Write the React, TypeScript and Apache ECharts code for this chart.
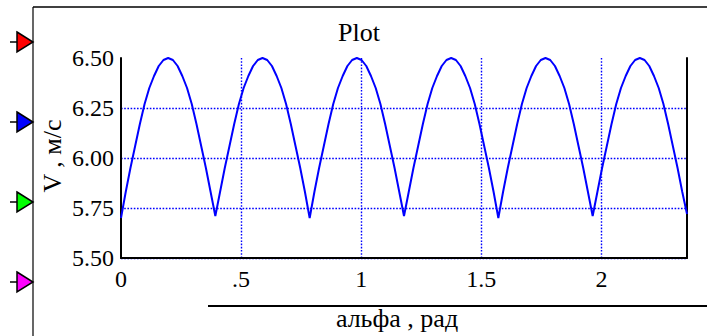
import React, { useEffect, useRef } from "react";
import * as echarts from "echarts";

// Sample spacing along alpha (rad): 20 samples per ripple period (~0.3927 rad)
const SAMPLE_STEP = 0.019635;
const X_MAX = 2.3562;
const X_TICKS = [0, 0.5, 1, 1.5, 2];
const X_TICK_LABELS = ["0", ".5", "1", "1.5", "2"];
const Y_TICKS = [5.5, 5.75, 6.0, 6.25, 6.5];
const Y_TICK_LABELS = ["5.50", "5.75", "6.00", "6.25", "6.50"];

// V values (m/s)
const V_VALUES = [
  5.70, 5.83, 5.95, 6.06, 6.17, 6.27, 6.35, 6.41, 6.46, 6.49, 6.50, 6.49, 6.46, 6.41, 6.35, 6.27, 6.17, 6.06, 5.95, 5.83,
  5.71, 5.83, 5.95, 6.06, 6.17, 6.27, 6.35, 6.41, 6.46, 6.49, 6.50, 6.49, 6.46, 6.41, 6.35, 6.27, 6.17, 6.06, 5.95, 5.83,
  5.70, 5.83, 5.95, 6.06, 6.17, 6.27, 6.35, 6.41, 6.46, 6.49, 6.50, 6.49, 6.46, 6.41, 6.35, 6.27, 6.17, 6.06, 5.95, 5.83,
  5.71, 5.83, 5.95, 6.06, 6.17, 6.27, 6.35, 6.41, 6.46, 6.49, 6.50, 6.49, 6.46, 6.41, 6.35, 6.27, 6.17, 6.06, 5.95, 5.83,
  5.70, 5.83, 5.95, 6.06, 6.17, 6.27, 6.35, 6.41, 6.46, 6.49, 6.50, 6.49, 6.46, 6.41, 6.35, 6.27, 6.17, 6.06, 5.95, 5.83,
  5.71, 5.83, 5.95, 6.06, 6.17, 6.27, 6.35, 6.41, 6.46, 6.49, 6.50, 6.49, 6.46, 6.41, 6.35, 6.27, 6.17, 6.06, 5.95, 5.83,
  5.72,
];

const MARKER_COLORS = ["#ff0000", "#0000ff", "#00ff00", "#ff00ff"];
const MARKER_Y = [42, 122, 202, 282];

const FONT = "Liberation Serif";

export default function App() {
  const ref = useRef<HTMLDivElement>(null);

  useEffect(() => {
    if (!ref.current) return;
    const chart = echarts.init(ref.current, null, { renderer: "svg" });

    const data = V_VALUES.map((v, i) => [i * SAMPLE_STEP, v]);

    const markerGraphics: any[] = [];
    MARKER_Y.forEach((y, i) => {
      markerGraphics.push({
        type: "line",
        shape: { x1: 10, y1: y, x2: 18, y2: y },
        style: { stroke: "#000", lineWidth: 1.5 },
      });
      markerGraphics.push({
        type: "polygon",
        shape: { points: [[17, y - 10], [33, y], [17, y + 10]] },
        style: { fill: MARKER_COLORS[i], stroke: "#000", lineWidth: 1.5 },
      });
    });

    const dotted = { color: "#0000ff", width: 1.4, type: [1.6, 1.6] as any };

    chart.setOption({
      animation: false,
      backgroundColor: "#ffffff",
      grid: { left: 121, top: 58, width: 566, height: 200, containLabel: false },
      xAxis: {
        type: "value",
        min: 0,
        max: X_MAX,
        interval: 0.5,
        axisLine: { show: true, lineStyle: { color: "#000", width: 2 } },
        axisTick: { show: false },
        axisLabel: { show: false },
        splitLine: { show: true, showMinLine: false, showMaxLine: false, lineStyle: dotted },
      },
      yAxis: [
        {
          type: "value",
          min: Y_TICKS[0],
          max: Y_TICKS[Y_TICKS.length - 1],
          interval: 0.25,
          axisLine: { show: true, lineStyle: { color: "#000", width: 2 } },
          axisTick: { show: false },
          axisLabel: { show: false },
          splitLine: { show: true, showMaxLine: false, lineStyle: dotted },
        },
        {
          type: "value",
          position: "right",
          min: Y_TICKS[0],
          max: Y_TICKS[Y_TICKS.length - 1],
          interval: 0.25,
          axisLine: { show: true, lineStyle: { color: "#000", width: 2 } },
          axisTick: { show: false },
          axisLabel: { show: false },
          splitLine: { show: false },
        },
      ],
      series: [
        {
          type: "line",
          data,
          showSymbol: false,
          symbol: "none",
          lineStyle: { color: "#0000ff", width: 2 },
          clip: true,
        },
      ],
    });

    // Tick labels placed through the axes' own scales (serif font)
    const yLabelX = (chart.convertToPixel({ xAxisIndex: 0 }, 0) as number) - 7;
    const xLabelY = (chart.convertToPixel({ yAxisIndex: 0 }, Y_TICKS[0]) as number) + 9;
    const tickTexts: any[] = [];
    Y_TICKS.forEach((v, i) => {
      tickTexts.push({
        type: "text",
        x: yLabelX,
        y: chart.convertToPixel({ yAxisIndex: 0 }, v) as number,
        style: {
          text: Y_TICK_LABELS[i],
          fill: "#000",
          font: `24px ${FONT}`,
          textAlign: "right",
          textVerticalAlign: "middle",
        },
      });
    });
    X_TICKS.forEach((v, i) => {
      tickTexts.push({
        type: "text",
        x: chart.convertToPixel({ xAxisIndex: 0 }, v) as number,
        y: xLabelY,
        style: {
          text: X_TICK_LABELS[i],
          fill: "#000",
          font: `24px ${FONT}`,
          textAlign: "center",
          textVerticalAlign: "top",
        },
      });
    });

    chart.setOption({
      graphic: [
        {
          type: "line",
          shape: { x1: 33, y1: 7, x2: 707, y2: 7 },
          style: { stroke: "#000", lineWidth: 1.5 },
        },
        {
          type: "line",
          shape: { x1: 33, y1: 7, x2: 33, y2: 336 },
          style: { stroke: "#000", lineWidth: 1.2 },
        },
        ...markerGraphics,
        ...tickTexts,
        {
          type: "text",
          x: 359,
          y: 32,
          style: {
            text: "Plot",
            fill: "#000",
            font: `26px ${FONT}`,
            textAlign: "center",
            textVerticalAlign: "middle",
          },
        },
        {
          type: "text",
          x: 52,
          y: 156,
          rotation: Math.PI / 2,
          style: {
            text: "V , м/с",
            fill: "#000",
            font: `26px ${FONT}`,
            textAlign: "center",
            textVerticalAlign: "middle",
          },
        },
        {
          type: "line",
          shape: { x1: 208, y1: 306, x2: 707, y2: 306 },
          style: { stroke: "#000", lineWidth: 2 },
        },
        {
          type: "text",
          x: 397,
          y: 318,
          style: {
            text: "альфа , рад",
            fill: "#000",
            font: `26px ${FONT}`,
            textAlign: "center",
            textVerticalAlign: "middle",
          },
        },
      ],
    });

    return () => chart.dispose();
  }, []);

  return <div ref={ref} style={{ width: 707, height: 336, position: "absolute", left: 0, top: 0 }} />;
}
